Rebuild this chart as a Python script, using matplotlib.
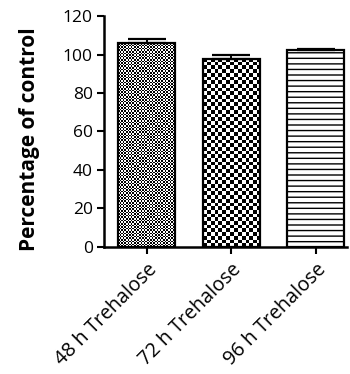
import numpy as np
import matplotlib
matplotlib.use("Agg")
import matplotlib.pyplot as plt

categories = ["48 h Trehalose", "72 h Trehalose", "96 h Trehalose"]
values = [105.8, 97.8, 102.3]
errors = [2.2, 1.9, 0.6]
yticks = [0, 20, 40, 60, 80, 100, 120]
ylabel = "Percentage of control"

plt.rcParams['font.family'] = ['Open Sans', 'DejaVu Sans']
plt.rcParams['hatch.linewidth'] = 1.0

fig = plt.figure(figsize=(3.5, 3.74), dpi=100)
ax = fig.add_axes([0.297, 0.3396, 0.694, 0.6176])

x = np.arange(len(categories))
ax.set_xlim(-0.509, 2.367)
ax.set_ylim(0, 120)

bars = ax.bar(x, values, width=0.675, facecolor='white', edgecolor='black',
              linewidth=1.6, zorder=3)
bars[2].set_hatch('---')
bars[0].set_facecolor('none')
bars[1].set_facecolor('none')

ax.errorbar(x, values, yerr=[np.zeros(len(errors)), errors], fmt='none',
            ecolor='black', elinewidth=1.4, capsize=14, capthick=1.6, zorder=4)

# checker textures for the first two bars
def checker(bar, sq, light):
    x0 = bar.get_x(); w = bar.get_width(); h = bar.get_height()
    p0 = ax.transData.transform((x0, 0))
    p1 = ax.transData.transform((x0 + w, h))
    ncol = max(1, int(round(abs(p1[0] - p0[0]) / sq)))
    nrow = max(1, int(round(abs(p1[1] - p0[1]) / sq)))
    ii, jj = np.indices((nrow, ncol))
    arr = ((ii + jj) % 2).astype(float) * light
    im = ax.imshow(arr, cmap='gray', extent=(x0, x0 + w, 0, h), aspect='auto',
                   interpolation='nearest', zorder=2, vmin=0, vmax=1)
    im.set_clip_path(bar)

checker(bars[0], 1.6, 1.0)
checker(bars[1], 3.7, 1.0)
ax.set_xlim(-0.509, 2.367)
ax.set_ylim(0, 120)

for s in ['top', 'right']:
    ax.spines[s].set_visible(False)
for s in ['left', 'bottom']:
    ax.spines[s].set_linewidth(1.8)

ax.set_yticks(yticks)
ax.set_yticklabels([str(v) for v in yticks], fontsize=12.5)
ax.set_xticks(x)
ax.set_xticklabels(categories, rotation=45, ha='right', rotation_mode='anchor',
                   fontsize=14.2)
ax.tick_params(axis='both', direction='out', length=5, width=1.5, pad=3)
ax.tick_params(axis='x', pad=4)
ax.set_ylabel(ylabel, fontsize=15, fontweight='bold')
ax.yaxis.set_label_coords(-0.265, 0.465)

fig.savefig("out.png", dpi=100)
